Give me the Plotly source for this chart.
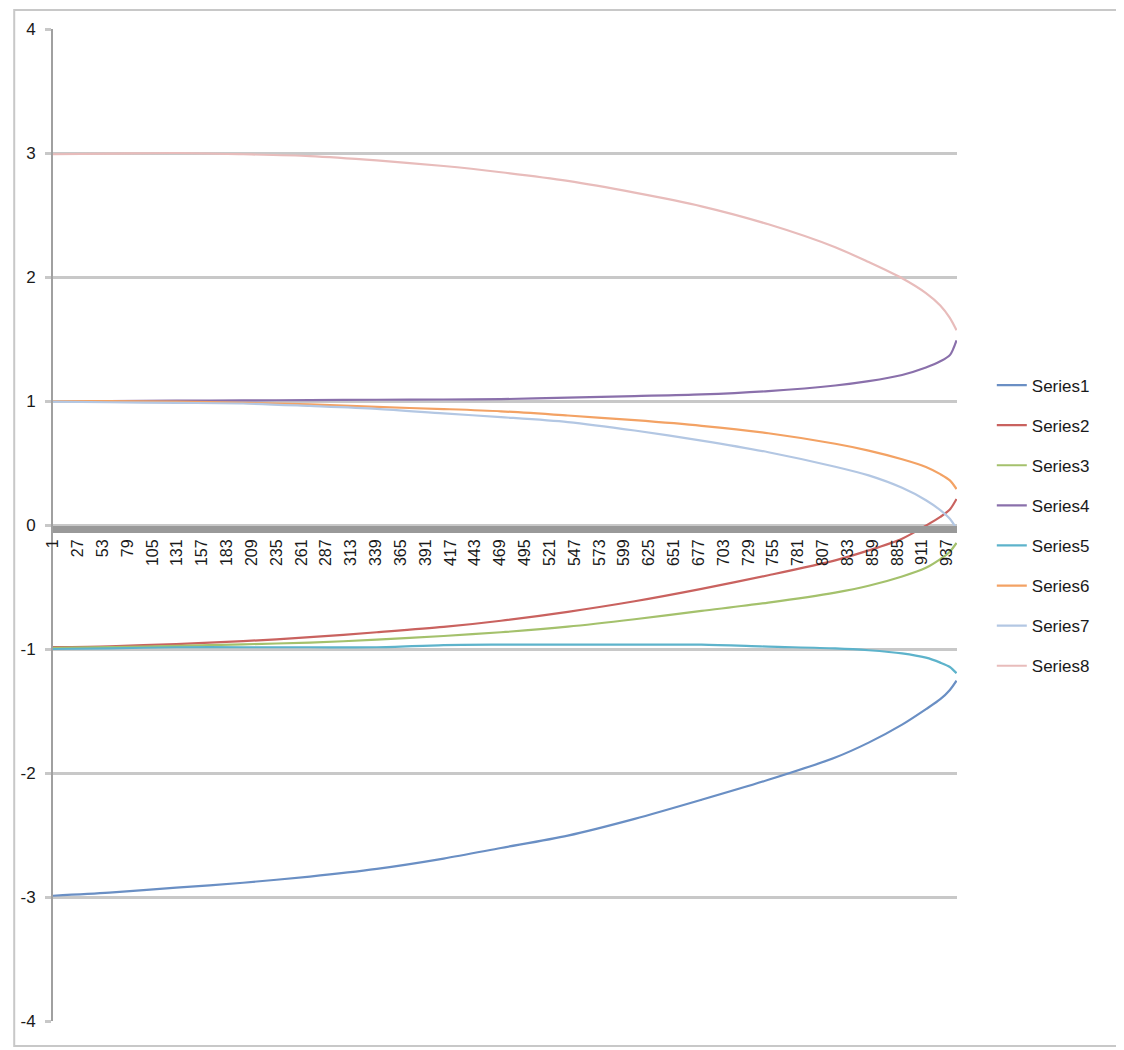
import plotly.graph_objects as go

cats = [1, 60, 130, 200, 270, 340, 410, 470, 540, 610, 680, 750, 820, 855, 890, 915, 930, 940, 947]

series1 = [-2.99, -2.965, -2.925, -2.885, -2.835, -2.773, -2.69, -2.605, -2.505, -2.37,
           -2.216, -2.055, -1.875, -1.755, -1.61, -1.485, -1.405, -1.33, -1.255]
series2 = [-0.985, -0.978, -0.96, -0.937, -0.905, -0.865, -0.822, -0.772, -0.70, -0.615,
           -0.515, -0.405, -0.285, -0.205, -0.11, -0.005, 0.065, 0.125, 0.21]
series3 = [-0.99, -0.985, -0.975, -0.962, -0.948, -0.925, -0.895, -0.865, -0.82, -0.76,
           -0.693, -0.626, -0.545, -0.49, -0.415, -0.345, -0.275, -0.215, -0.145]
series4 = [1.0, 1.0, 1.003, 1.005, 1.007, 1.01, 1.012, 1.015, 1.028, 1.04,
           1.053, 1.08, 1.125, 1.16, 1.21, 1.27, 1.32, 1.37, 1.49]
series5 = [-1.0, -0.995, -0.986, -0.986, -0.986, -0.986, -0.968, -0.965, -0.965, -0.965,
           -0.965, -0.981, -0.995, -1.01, -1.035, -1.07, -1.11, -1.145, -1.195]
series6 = [1.0, 1.0, 0.995, 0.985, 0.973, 0.952, 0.935, 0.917, 0.883, 0.845,
           0.80, 0.74, 0.655, 0.60, 0.53, 0.468, 0.41, 0.36, 0.29]
series7 = [0.995, 0.99, 0.985, 0.98, 0.96, 0.937, 0.90, 0.87, 0.83, 0.762,
           0.681, 0.587, 0.47, 0.40, 0.30, 0.20, 0.12, 0.05, -0.03]
series8 = [2.99, 2.995, 3.0, 2.99, 2.975, 2.94, 2.895, 2.845, 2.775, 2.68,
           2.57, 2.425, 2.24, 2.12, 1.99, 1.87, 1.77, 1.67, 1.57]

tick_labels = ["1", "27", "53", "79", "105", "131", "157", "183", "209", "235", "261",
               "287", "313", "339", "365", "391", "417", "443", "469", "495", "521",
               "547", "573", "599", "625", "651", "677", "703", "729", "755", "781",
               "807", "833", "859", "885", "911", "937"]
y_ticks = [-4, -3, -2, -1, 0, 1, 2, 3, 4]
y_labels = ["-4", "-3", "-2", "-1", "0", "1", "2", "3", "4"]

names = ["Series1", "Series2", "Series3", "Series4",
         "Series5", "Series6", "Series7", "Series8"]
colors = ["#6A8FC4", "#C9625F", "#A4C16C", "#8A70AB",
          "#5DB3CB", "#F3A264", "#B3C7E3", "#E8BCBB"]
values = [series1, series2, series3, series4, series5, series6, series7, series8]

fig = go.Figure()
for name, color, vals in zip(names, colors, values):
    fig.add_trace(go.Scatter(
        x=cats, y=vals, name=name, mode="lines", legendgroup=name,
        line=dict(color=color, width=2.2, shape="spline", smoothing=0.8),
    ))

font = dict(family="Liberation Sans, Arial, sans-serif", size=17, color="#1a1a1a")

fig.update_layout(
    width=1116, height=1042,
    paper_bgcolor="white", plot_bgcolor="white",
    margin=dict(l=40, r=167, t=20, b=29),
    font=font,
    showlegend=True,
    legend=dict(x=1.0385, xanchor="left", y=0.4995, yanchor="middle",
                tracegroupgap=15, font=dict(size=17, color="#1a1a1a"),
                bgcolor="rgba(0,0,0,0)"),
    xaxis=dict(
        range=[1, 947.5], showgrid=False, zeroline=False,
        tickmode="array", tickvals=[int(t) for t in tick_labels], ticktext=tick_labels,
        tickangle=-90, ticks="", tickfont=dict(size=16, color="#1a1a1a"),
        showline=True, linecolor="#999999", linewidth=7,
        anchor="free", position=0.496,
    ),
    yaxis=dict(
        range=[-4, 4], showgrid=True, gridcolor="#c8c8c8", gridwidth=3,
        tickmode="array", tickvals=y_ticks, ticktext=y_labels,
        zeroline=False, showline=True, linecolor="#a0a0a0", linewidth=2,
        ticks="outside", ticklen=6, tickwidth=3, tickcolor="#c8c8c8",
        ticklabelstandoff=6, tickfont=dict(size=17, color="#1a1a1a"),
    ),
)

# Outer chart border
fig.add_shape(type="rect", xref="paper", yref="paper",
              x0=-0.0429, x1=1.1793, y0=-0.0252, y1=1.0191,
              line=dict(color="#c8c8c8", width=2))

fig.write_html("out.html")
